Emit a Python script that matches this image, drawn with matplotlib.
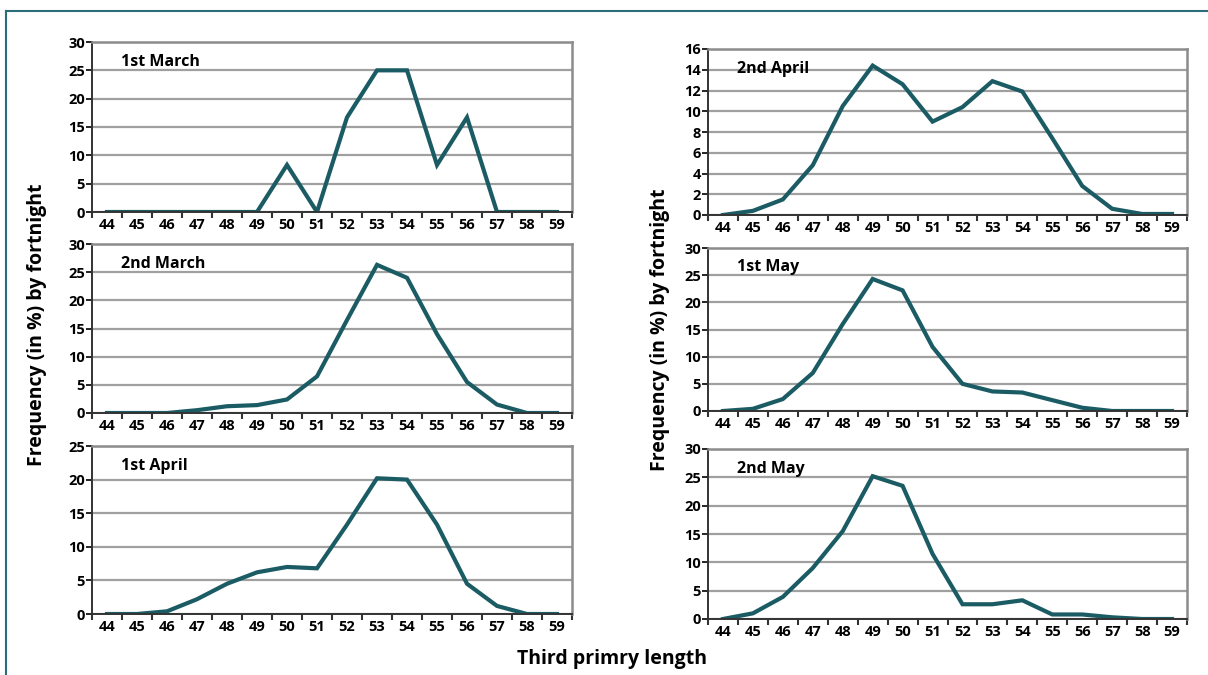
import matplotlib
matplotlib.use("Agg")
from matplotlib import pyplot as plt
from matplotlib.lines import Line2D
import numpy as np

plt.rcParams['font.family'] = ['Open Sans', 'DejaVu Sans']

#--- Data
lengths = [44, 45, 46, 47, 48, 49, 50, 51, 52, 53, 54, 55, 56, 57, 58, 59]

march_1 = [0, 0, 0, 0, 0, 0, 8.3, 0, 16.7, 25, 25, 8.3, 16.7, 0, 0, 0]
march_2 = [0, 0, 0, 0.5, 1.2, 1.4, 2.4, 6.5, 16.5, 26.3, 24, 14, 5.5, 1.5, 0, 0]
april_1 = [0, 0, 0.4, 2.2, 4.5, 6.2, 7, 6.8, 13.3, 20.2, 20, 13.3, 4.5, 1.2, 0, 0]
april_2 = [0, 0.4, 1.5, 4.8, 10.5, 14.4, 12.6, 9, 10.4, 12.9, 11.9, 7.4, 2.8, 0.6, 0.1, 0.1]
may_1 = [0, 0.4, 2.2, 7, 16, 24.3, 22.2, 11.8, 5, 3.6, 3.4, 2, 0.6, 0, 0, 0]
may_2 = [0, 1, 3.9, 9, 15.5, 25.2, 23.5, 11.5, 2.6, 2.6, 3.3, 0.8, 0.8, 0.3, 0, 0]

#--- Panels: (title, values, ymax, ystep, left, top, right, bottom) in pixels
W, H = 1208, 675
panels = [
    ("1st March", march_1, 30, 5, 92, 42, 572, 212),
    ("2nd March", march_2, 30, 5, 92, 244, 572, 413),
    ("1st April", april_1, 25, 5, 92, 446, 572, 614),
    ("2nd April", april_2, 16, 2, 708, 49, 1187, 215),
    ("1st May", may_1, 30, 5, 708, 248, 1187, 411),
    ("2nd May", may_2, 30, 5, 708, 449, 1187, 619),
]

line_color = '#1b5c64'
frame_color = '#2b6d78'

fig = plt.figure(figsize=(W / 100, H / 100), dpi=100)
fig.patch.set_facecolor('white')

#--- outer frame (only top and left edges visible)
fig.lines.append(Line2D([6 / W, 1], [1 - 11 / H, 1 - 11 / H], transform=fig.transFigure,
                        color=frame_color, linewidth=1.5))
fig.lines.append(Line2D([6 / W, 6 / W], [0, 1 - 11 / H], transform=fig.transFigure,
                        color=frame_color, linewidth=1.5))

x = np.arange(len(lengths))
for title, vals, ymax, ystep, l, t, r, b in panels:
    ax = fig.add_axes([l / W, 1 - b / H, (r - l) / W, (b - t) / H])
    ax.plot(x, vals, color=line_color, linewidth=3.0, solid_joinstyle='miter')
    ax.set_xlim(-0.5, len(lengths) - 0.5)
    ax.set_ylim(0, ymax)
    ax.set_yticks(np.arange(0, ymax + 0.1, ystep))
    ax.set_xticks(x)
    ax.set_xticklabels([str(v) for v in lengths])
    ax.set_xticks(np.arange(-0.5, len(lengths), 1), minor=True)
    ax.tick_params(axis='x', which='major', length=0, pad=4, labelsize=10.5)
    ax.tick_params(axis='x', which='minor', length=4, width=1.5, color='#333333')
    ax.tick_params(axis='y', length=4, width=1.2, pad=1, labelsize=10.5)
    for lab in ax.get_xticklabels() + ax.get_yticklabels():
        lab.set_fontweight('bold')
    ax.grid(axis='y', color='#a0a0a0', linewidth=1.6)
    ax.set_axisbelow(True)
    for s in ['top', 'right']:
        ax.spines[s].set_color('#8c8c8c')
        ax.spines[s].set_linewidth(1.8)
    for s in ['left', 'bottom']:
        ax.spines[s].set_color('#333333')
        ax.spines[s].set_linewidth(1.4)
    ax.text(0.06, 0.93, title, transform=ax.transAxes, fontsize=11.5,
            fontweight='bold', va='top', ha='left')

#--- axis labels
fig.text(37 / W, 1 - 325 / H, "Frequency (in %) by fortnight", rotation=90,
         fontsize=14, fontweight='bold', ha='center', va='center')
fig.text(660 / W, 1 - 330 / H, "Frequency (in %) by fortnight", rotation=90,
         fontsize=14, fontweight='bold', ha='center', va='center')
fig.text(612 / W, 1 - 659 / H, "Third primry length",
         fontsize=14, fontweight='bold', ha='center', va='center')

fig.savefig("out.png", dpi=100)
